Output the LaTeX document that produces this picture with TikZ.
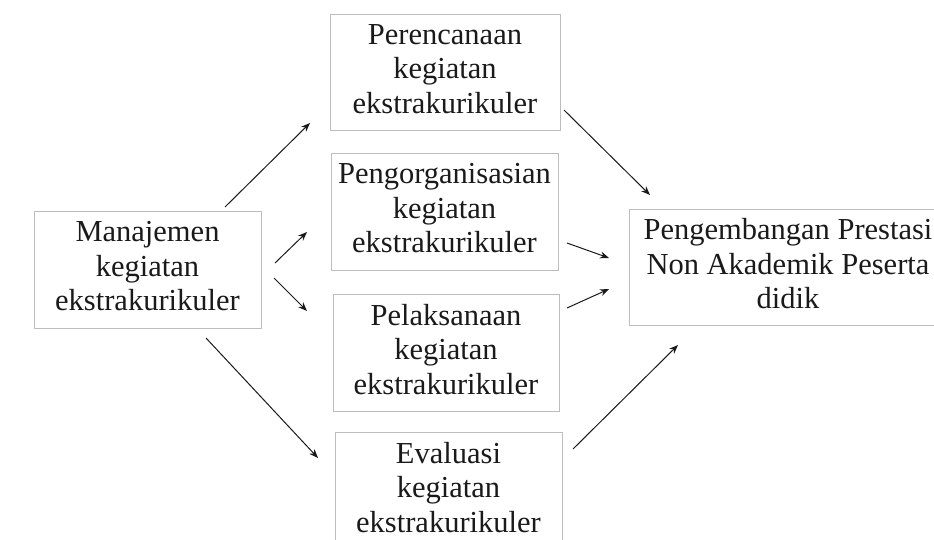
\documentclass[tikz,border=0pt]{standalone}
\usepackage{fontspec}
\setmainfont{Liberation Serif}
\usetikzlibrary{arrows.meta}
\definecolor{boxline}{HTML}{BDBDBD}
\definecolor{txt}{HTML}{1A1A1A}
\tikzset{
  box/.style={draw=boxline, line width=0.9pt, fill=white, inner sep=0pt},
  label text/.style={align=center, inner sep=0pt, yshift=3pt,
    font=\fontsize{30.5pt}{34.5pt}\selectfont, text=txt},
  arr/.style={draw=txt, line width=1pt, -{Stealth[length=9pt,width=7pt]}}
}
\begin{document}
\begin{tikzpicture}[x=1pt,y=-1pt]
\useasboundingbox (0,0) rectangle (934,540);
\fill[white] (0,0) rectangle (934,540);
\node[box, minimum width=230pt, minimum height=116pt] (p) at (445,72) {};
\node[label text] (pt) at (p) {Perencanaan\\kegiatan\\ekstrakurikuler};
\node[box, minimum width=227pt, minimum height=117pt] (m) at (147.5,269.5) {};
\node[label text] (mt) at (m) {Manajemen\\kegiatan\\ekstrakurikuler};
\node[box, minimum width=227pt, minimum height=117pt] (o) at (444.5,211.5) {};
\node[label text] (ot) at (o) {Pengorganisasian\\kegiatan\\ekstrakurikuler};
\node[box, minimum width=226pt, minimum height=117pt] (l) at (446,352.5) {};
\node[label text] (lt) at (l) {Pelaksanaan\\kegiatan\\ekstrakurikuler};
\node[box, minimum width=227pt, minimum height=117pt] (e) at (448.5,490.5) {};
\node[label text] (et) at (e) {Evaluasi\\kegiatan\\ekstrakurikuler};
\node[box, minimum width=318pt, minimum height=116pt] (g) at (788,267) {};
\node[label text] (gt) at (g) {Pengembangan Prestasi\\Non Akademik Peserta\\didik};
% connector end points
\coordinate (m1) at (225,207);   \coordinate (p1) at (310,123);
\coordinate (p2) at (564,110);   \coordinate (g1) at (650,195);
\coordinate (m2) at (275,263);   \coordinate (o1) at (307,232);
\coordinate (m3) at (274,278);   \coordinate (l1) at (307,311);
\coordinate (m4) at (206,338);   \coordinate (e1) at (318,458);
\coordinate (o2) at (567,243);   \coordinate (g2) at (609,258);
\coordinate (l2) at (567,308);   \coordinate (g3) at (609,289);
\coordinate (e2) at (573,449);   \coordinate (g4) at (678,345);
\draw[arr] (m1) -- (p1);
\draw[arr] (p2) -- (g1);
\draw[arr] (m2) -- (o1);
\draw[arr] (m3) -- (l1);
\draw[arr] (m4) -- (e1);
\draw[arr] (o2) -- (g2);
\draw[arr] (l2) -- (g3);
\draw[arr] (e2) -- (g4);
\end{tikzpicture}
\end{document}
